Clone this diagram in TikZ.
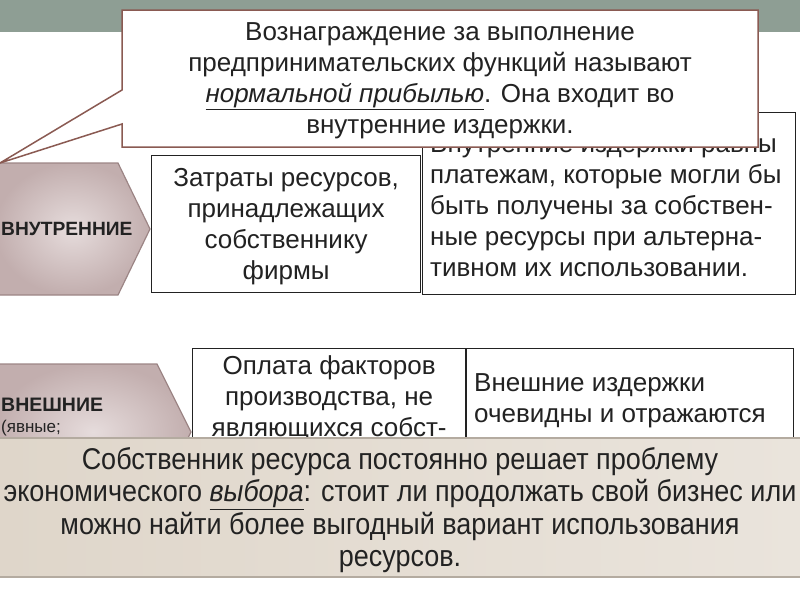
\documentclass[tikz,border=0pt]{standalone}
\usepackage{fontspec}
\setmainfont{Liberation Sans}
\newfontfamily\narrowfont[FakeStretch=0.9]{Liberation Sans}
\definecolor{band}{HTML}{8E9E94}
\definecolor{calloutline}{HTML}{8A5A52}
\definecolor{chevline}{HTML}{9C8585}
\definecolor{chevin}{HTML}{E6DCDC}
\definecolor{chevout}{HTML}{C2AEAE}
\definecolor{noteleft}{HTML}{DFD6CA}
\definecolor{noteright}{HTML}{EAE4DC}
\definecolor{noteline}{HTML}{B4ABA0}
\definecolor{ink}{HTML}{222222}
\begin{document}
\begin{tikzpicture}[x=1pt,y=-1pt,
  every node/.style={inner sep=0pt, text=ink},
  body/.style={font=\fontsize{26}{31}\selectfont},
  box/.style={draw=ink, line width=1.2pt, fill=white},
  chev/.style={draw=chevline, line width=1.2pt, inner color=chevin, outer color=chevout}]
\useasboundingbox (0,0) rectangle (800,600);
\fill[band] (0,0) rectangle (800,32);

% internal costs
\path[chev] (-5,163) -- (118,163) -- (150,229) -- (118,295) -- (-5,295) -- cycle;
\node[font=\bfseries\fontsize{19.2}{22}\selectfont, anchor=west] (inner) at (1,229) {ВНУТРЕННИЕ};
\node[box, minimum width=269, minimum height=137, anchor=north west] (own) at (151,155) {};
\node[body, align=center] (owntxt) at ([yshift=-3]own.center) {Затраты ресурсов,\\принадлежащих\\собственнику\\фирмы};
\node[box, minimum width=373, minimum height=182, anchor=north west] (alt) at (422,112) {};
\node[body, align=left, anchor=north west] (alttxt) at ([xshift=8,yshift=-22]alt.north west)
  {Внутренние издержки равны\\платежам, которые могли бы\\быть получены за собствен-\\ные ресурсы при альтерна-\\тивном их использовании.};

% external costs
\path[chev] (-5,364) -- (157,364) -- (191,432) -- (157,500) -- (-5,500) -- cycle;
\node[font=\bfseries\fontsize{19.5}{22}\selectfont, anchor=west] (outer) at (1,405) {ВНЕШНИЕ};
\node[font=\fontsize{17}{20}\selectfont, anchor=west] (explicit) at (1,428) {(явные;};
\node[box, minimum width=273, minimum height=130, anchor=north west] (pay) at (192,348) {};
\node[body, align=center, anchor=north] (paytxt) at ([yshift=-7]pay.north)
  {Оплата факторов\\производства, не\\являющихся собст-};
\node[box, minimum width=327, minimum height=130, anchor=north west] (obvious) at (466,348) {};
\node[body, align=left, anchor=north west] (obvioustxt) at ([xshift=8,yshift=-25]obvious.north west)
  {Внешние издержки\\очевидны и отражаются};

% callout on top
\path[fill=white, draw=calloutline, line width=1.5pt]
  (122,10) -- (758,10) -- (758,147) -- (122,147) -- (122,124) -- (0,163) -- (122,90) -- cycle;
\node[body, align=center] (profit) at (440,81)
  {Вознаграждение за выполнение\\предпринимательских функций называют\\\underline{\textit{нормальной прибылью}}. Она входит во\\внутренние издержки.};

% bottom note
\shade[left color=noteleft, right color=noteright] (0,438) rectangle (800,577);
\draw[noteline, line width=1.2pt] (0,438) -- (800,438) (0,577) -- (800,577);
\node[font=\narrowfont\fontsize{30}{32.5}\selectfont, align=center] (choice) at (400,510)
  {Собственник ресурса постоянно решает проблему\\экономического \underline{\textit{выбора}}: стоит ли продолжать свой бизнес или\\можно найти более выгодный вариант использования\\ресурсов.};
\end{tikzpicture}
\end{document}
